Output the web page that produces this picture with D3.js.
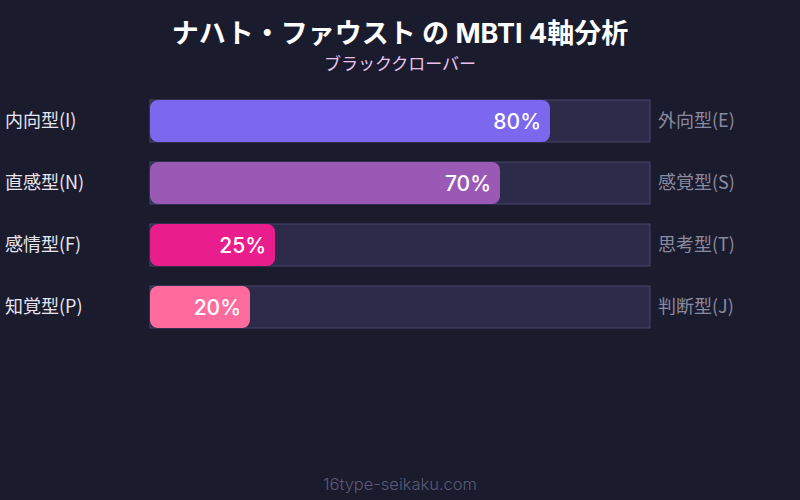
<!DOCTYPE html>
<html>
<head>
<meta charset="utf-8">
<script src="https://cdn.jsdelivr.net/npm/d3@7"></script>
<style>
  body { margin: 0; background: #1b1b2e; }
  svg { display: block; font-family: Inter, "Noto Sans CJK JP", sans-serif; }
  .side { font-family: "Noto Sans CJK JP", sans-serif; }
</style>
</head>
<body>
<svg width="800" height="500"></svg>
<script>
// data
const leftLabels = ["内向型(I)", "直感型(N)", "感情型(F)", "知覚型(P)"];
const rightLabels = ["外向型(E)", "感覚型(S)", "思考型(T)", "判断型(J)"];
const values = [80, 70, 25, 20];
const colors = ["#7b68ee", "#9b59b6", "#e91e8c", "#ff6b9d"];

const width = 800;
const height = 500;

const svg = d3.select("svg");

svg.append("rect")
    .attr("width", width)
    .attr("height", height)
    .attr("fill", "#1b1b2e");

// scales
const xScale = d3.scaleLinear()
        .domain([0, 100])
        .range([150, 650]);

const yScale = d3.scaleBand()
        .domain(leftLabels)
        .range([100, 328])
        .paddingInner(20 / 62)
        .paddingOuter(0);

const rows = leftLabels.map((d, i) => ({
    left: d,
    right: rightLabels[i],
    value: values[i],
    color: colors[i]
}));

// title
svg.append("text")
    .attr("x", width / 2)
    .attr("y", 43)
    .attr("text-anchor", "middle")
    .attr("fill", "#ffffff")
    .attr("font-size", 27)
    .attr("font-weight", "bold")
    .text("ナハト・ファウスト の MBTI 4軸分析");

svg.append("text")
    .attr("class", "side")
    .attr("x", width / 2)
    .attr("y", 70)
    .attr("text-anchor", "middle")
    .attr("fill", "#e8c4ec")
    .attr("font-size", 17)
    .text("ブラッククローバー");

// track
svg.selectAll("rect.track")
    .data(rows)
    .join("rect")
    .attr("class", "track")
    .attr("x", xScale(0))
    .attr("y", d => yScale(d.left))
    .attr("width", xScale(100) - xScale(0))
    .attr("height", yScale.bandwidth())
    .attr("fill", "#2d2b4a")
    .attr("stroke", "#46466a")
    .attr("stroke-width", 1);

// bars
svg.selectAll("rect.bar")
    .data(rows)
    .join("rect")
    .attr("class", "bar")
    .attr("x", xScale(0))
    .attr("y", d => yScale(d.left))
    .attr("width", d => xScale(d.value) - xScale(0))
    .attr("height", yScale.bandwidth())
    .attr("rx", 8)
    .attr("fill", d => d.color);

// percent labels
svg.selectAll("text.pct")
    .data(rows)
    .join("text")
    .attr("class", "pct")
    .attr("x", d => xScale(d.value) - 9)
    .attr("y", d => yScale(d.left) + yScale.bandwidth() / 2)
    .attr("dy", "0.36em")
    .attr("text-anchor", "end")
    .attr("fill", "#ffffff")
    .attr("font-size", 21)
    .attr("font-weight", 500)
    .text(d => d.value + "%");

// side labels
svg.selectAll("text.left")
    .data(rows)
    .join("text")
    .attr("class", "left side")
    .attr("x", 5)
    .attr("y", d => yScale(d.left) + yScale.bandwidth() / 2)
    .attr("dy", "0.36em")
    .attr("fill", "#e6e6f0")
    .attr("font-size", 18)
    .text(d => d.left);

svg.selectAll("text.right")
    .data(rows)
    .join("text")
    .attr("class", "right side")
    .attr("x", 658)
    .attr("y", d => yScale(d.left) + yScale.bandwidth() / 2)
    .attr("dy", "0.36em")
    .attr("fill", "#8a8a9e")
    .attr("font-size", 18)
    .text(d => d.right);

// footer
svg.append("text")
    .attr("x", width / 2)
    .attr("y", 490)
    .attr("text-anchor", "middle")
    .attr("fill", "#5a5a74")
    .attr("font-size", 16.5)
    .attr("font-weight", 300)
    .text("16type-seikaku.com");
</script>
</body>
</html>
